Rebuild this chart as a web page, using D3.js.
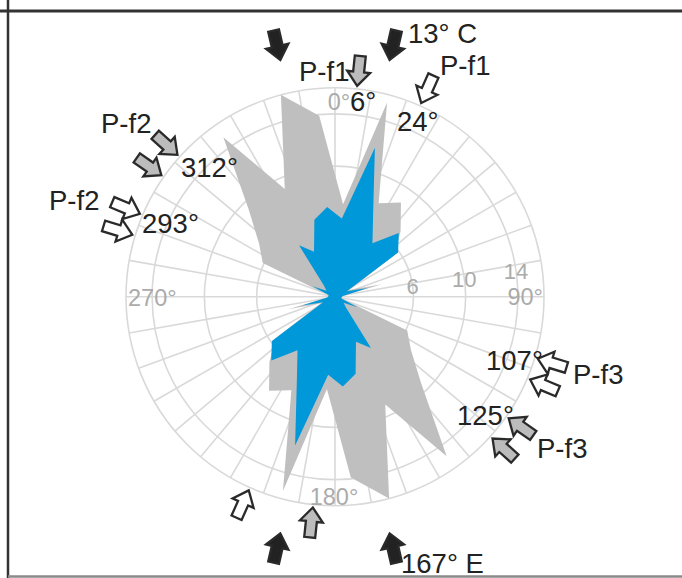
<!DOCTYPE html>
<html>
<head>
<meta charset="utf-8">
<script src="https://cdn.jsdelivr.net/npm/d3@7"></script>
<style>
  body { margin: 0; background: #fff; }
  svg { display: block; font-family: "Liberation Sans", Arial, sans-serif; }
</style>
</head>
<body>
<div id="app"></div>
<script>
const W = 682, H = 578
const CX = 335, CY = 296.7, R = 209

// bin centres (deg) for 0-180; axial data, the other half is the same bins + 180
const binAngles = [5, 15, 25, 35, 45, 55, 65, 75, 85, 95, 105, 115, 125, 135, 145, 155, 165, 175]
const grayCounts = [7.1, 15.4, 7.9, 8.8, 7.1, 5.6, 1.2, 3.7, 0.6, 0.5, 0.6, 6.1, 7.1, 9.3, 14.9, 9.1, 16.0, 13.9]
const blueCounts = [6.0, 11.8, 6.9, 5.0, 6.9, 5.9, 1.0, 2.6, 0.6, 0.5, 0.5, 1.9, 0.8, 1.2, 4.8, 3.8, 6.1, 6.9]

const ringValues = [6, 10, 14, 16]
const ringLabels = [6, 10, 14]
const dirLabels = ['0°', '90°', '180°', '270°']

// stress directions (deg), arrows point to the centre
const blackArrows = [13, 167, 193, 347]
const grayArrows = [6, 186, 125, 132, 305, 312]
const whiteArrows = [24, 204, 107, 113, 287, 293]

const notes = [
  { text: '13° C', x: 408, y: 43 },
  { text: 'P-f1', x: 299, y: 81 },
  { text: '6°', x: 350, y: 111 },
  { text: 'P-f1', x: 440, y: 75 },
  { text: '24°', x: 397, y: 131 },
  { text: 'P-f2', x: 101, y: 133 },
  { text: '312°', x: 181, y: 177 },
  { text: 'P-f2', x: 49, y: 210 },
  { text: '293°', x: 142, y: 233 },
  { text: '107°', x: 486, y: 370 },
  { text: 'P-f3', x: 573, y: 384 },
  { text: '125°', x: 457, y: 425 },
  { text: 'P-f3', x: 537, y: 458 },
  { text: '167° E', x: 401, y: 573 }
]

const rad = d => d * Math.PI / 180
const r = d3.scaleLinear().domain([0, 16]).range([0, R])

function rose(counts) {
  const pts = binAngles.map((a, i) => ({ a: a, v: counts[i] }))
  return pts.concat(pts.map(p => ({ a: p.a + 180, v: p.v })))
}

const svg = d3.select('#app').append('svg')
  .attr('width', W)
  .attr('height', H)

// frame
svg.append('line').attr('x1', 0).attr('x2', W).attr('y1', 11).attr('y2', 11)
  .attr('stroke', '#333').attr('stroke-width', 3)
svg.append('line').attr('x1', 8).attr('x2', 8).attr('y1', 0).attr('y2', H)
  .attr('stroke', '#333').attr('stroke-width', 2.5)
svg.append('line').attr('x1', 8).attr('x2', W).attr('y1', 576.5).attr('y2', 576.5)
  .attr('stroke', '#8a8a8a').attr('stroke-width', 2.5)

const g = svg.append('g')
  .attr('transform', 'translate(' + CX + ',' + CY + ')')

// grid
g.selectAll('.spoke')
  .data(d3.range(0, 360, 10))
  .enter().append('line')
  .attr('class', 'spoke')
  .attr('x1', 0).attr('y1', 0)
  .attr('x2', d => r(16) * Math.sin(rad(d)))
  .attr('y2', d => -r(16) * Math.cos(rad(d)))
  .attr('stroke', '#d9d9d9')
  .attr('stroke-width', 1.6)

g.selectAll('.ring')
  .data(ringValues)
  .enter().append('circle')
  .attr('class', 'ring')
  .attr('r', d => r(d))
  .attr('fill', 'none')
  .attr('stroke', '#d9d9d9')
  .attr('stroke-width', 1.6)

// rose polygons
const line = d3.lineRadial()
  .angle(d => rad(d.a))
  .radius(d => r(d.v))
  .curve(d3.curveLinearClosed)

g.append('path')
  .attr('d', line(rose(grayCounts)))
  .attr('fill', '#bfbfbf')

g.append('path')
  .attr('d', line(rose(blueCounts)))
  .attr('fill', '#0098d9')

// grey axis text
const lab = g.append('g')
  .attr('fill', '#ababab')

lab.selectAll('.ringlab')
  .data(ringLabels)
  .enter().append('text')
  .attr('text-anchor', 'middle')
  .attr('font-size', 22)
  .attr('x', d => r(d) * Math.sin(rad(82)))
  .attr('y', d => -r(d) * Math.cos(rad(82)) + 8)
  .text(d => d)

const dl = lab.append('g').attr('font-size', 23.5)
dl.append('text').attr('text-anchor', 'middle').attr('x', 4).attr('y', -187).text(dirLabels[0])
dl.append('text').attr('text-anchor', 'end').attr('x', 208).attr('y', 8).text(dirLabels[1])
dl.append('text').attr('text-anchor', 'middle').attr('x', -1).attr('y', 208).text(dirLabels[2])
dl.append('text').attr('text-anchor', 'start').attr('x', -207).attr('y', 9).text(dirLabels[3])

// arrows
const arrowShape = [[0, 0], [11.5, -14], [5.5, -14], [5.5, -30], [-5.5, -30], [-5.5, -14], [-11.5, -14]]

function arrows(list, dist, fill) {
  g.selectAll(null)
    .data(list)
    .enter().append('polygon')
    .attr('points', arrowShape.map(p => p.join(',')).join(' '))
    .attr('transform', d => 'translate(' + (dist * Math.sin(rad(d))) + ',' + (-dist * Math.cos(rad(d))) + ') rotate(' + d + ')')
    .attr('fill', fill)
    .attr('stroke', '#2a2a2a')
    .attr('stroke-width', 2.3)
    .attr('stroke-linejoin', 'miter')
}

arrows(blackArrows, 243, '#222')
arrows(grayArrows, 212, '#bcbcbc')
arrows(whiteArrows, 212, '#fff')

// annotations
svg.selectAll('.note')
  .data(notes)
  .enter().append('text')
  .attr('class', 'note')
  .attr('x', d => d.x)
  .attr('y', d => d.y)
  .attr('font-size', 27.5)
  .attr('fill', '#222')
  .text(d => d.text)
</script>
</body>
</html>
